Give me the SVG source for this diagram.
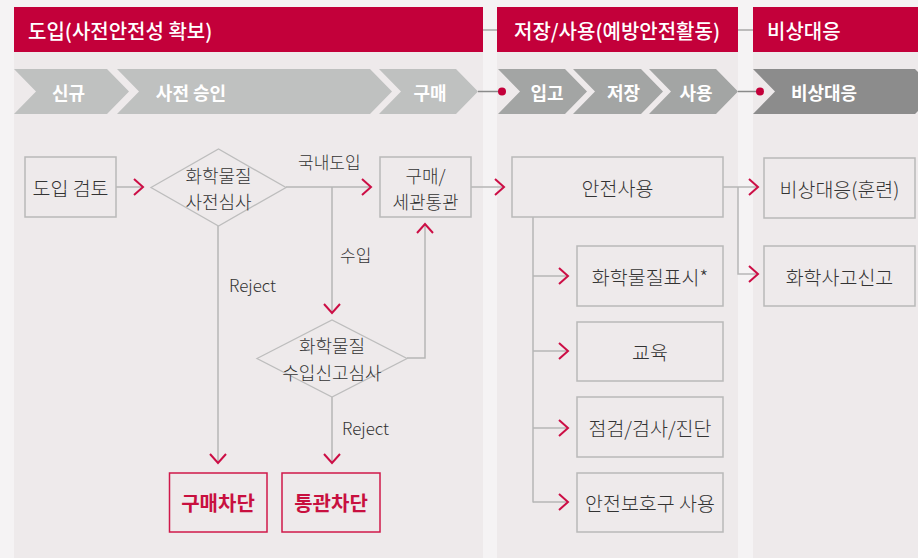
<svg xmlns="http://www.w3.org/2000/svg" width="918" height="558" viewBox="0 0 918 558">
<defs>
<style>
.t{font-family:"Noto Sans CJK KR","Noto Sans",sans-serif;font-size:19.5px;font-weight:300;fill:#333;text-anchor:middle;dominant-baseline:central}
.t2{font-size:18px}
.h{font-family:"Noto Sans CJK KR","Noto Sans",sans-serif;font-size:20px;font-weight:500;fill:#fff;dominant-baseline:central}
.c{font-family:"Noto Sans CJK KR","Noto Sans",sans-serif;font-size:18px;font-weight:700;fill:#fff;text-anchor:middle;dominant-baseline:central}
.r{font-family:"Noto Sans CJK KR","Noto Sans",sans-serif;font-size:20px;font-weight:700;fill:#c8103f;text-anchor:middle;dominant-baseline:central}
.l{font-family:"Noto Sans CJK KR","Noto Sans",sans-serif;font-size:17px;font-weight:300;fill:#333;dominant-baseline:central}
.box{fill:none;stroke:#b9b9b9;stroke-width:1.5}
.rbox{fill:none;stroke:#d0184a;stroke-width:1.5}
.dia{fill:none;stroke:#bdbdbd;stroke-width:1.3}
.ln{fill:none;stroke:#b6b6b6;stroke-width:1.5}
.hd{fill:#c3003a}
.panel{fill:#eeeaeb}
</style>
<marker id="ah" viewBox="0 0 12 18" refX="10" refY="9" markerWidth="12" markerHeight="18" markerUnits="userSpaceOnUse" orient="auto">
<path d="M1,1 L10,9 L1,17" fill="none" stroke="#cc0e45" stroke-width="2"/>
</marker>
</defs>
<rect x="0" y="0" width="918" height="558" fill="#f5f3f4"/>
<rect class="panel" x="14" y="7" width="469" height="551"/>
<rect class="panel" x="497" y="7" width="241" height="551"/>
<rect class="panel" x="753" y="7" width="165" height="551"/>
<g id="headers">
<line x1="483" y1="30" x2="497" y2="30" stroke="#a8a8a8" stroke-width="1.5"/>
<line x1="738" y1="30" x2="753" y2="30" stroke="#a8a8a8" stroke-width="1.5"/>
<rect class="hd" x="14" y="7" width="469" height="45"/>
<rect class="hd" x="497" y="7" width="241" height="45"/>
<rect class="hd" x="753" y="7" width="165" height="45"/>
<text class="h" x="28" y="30">도입(사전안전성 확보)</text>
<text class="h" x="514" y="30">저장/사용(예방안전활동)</text>
<text class="h" x="767" y="30">비상대응</text>
</g>
<g id="stages">
<line x1="478" y1="91.5" x2="502" y2="91.5" stroke="#8a8a8a" stroke-width="1.5"/>
<line x1="738" y1="91.5" x2="760" y2="91.5" stroke="#8a8a8a" stroke-width="1.5"/>
<polygon points="14,69 107,69 129,91.5 107,114 14,114 36,91.5" fill="#bfc1c0"/>
<polygon points="117,69 370,69 392,91.5 370,114 117,114 139,91.5" fill="#bfc1c0"/>
<polygon points="379,69 456,69 478,91.5 456,114 379,114 401,91.5" fill="#bfc1c0"/>
<polygon points="498,69 565,69 587,91.5 565,114 498,114 520,91.5" fill="#a3a5a4"/>
<polygon points="573,69 641,69 663,91.5 641,114 573,114 595,91.5" fill="#a3a5a4"/>
<polygon points="649,69 716,69 738,91.5 716,114 649,114 671,91.5" fill="#a3a5a4"/>
<polygon points="753,69 915,69 937,91.5 915,114 753,114 775,91.5" fill="#8c8c8c"/>
<circle cx="502" cy="91.5" r="4" fill="#c3003a"/>
<circle cx="760" cy="91.5" r="4" fill="#c3003a"/>
<text class="c" x="68.5" y="91.5">신규</text>
<text class="c" x="191" y="91.5">사전 승인</text>
<text class="c" x="430" y="91.5">구매</text>
<text class="c" x="547" y="91.5">입고</text>
<text class="c" x="623.5" y="91.5">저장</text>
<text class="c" x="696" y="91.5">사용</text>
<text class="c" x="824" y="91.5">비상대응</text>
</g>
<g id="connectors">
<line class="ln" x1="116" y1="187" x2="143" y2="187" marker-end="url(#ah)"/>
<line class="ln" x1="286" y1="187" x2="371" y2="187" marker-end="url(#ah)"/>
<line class="ln" x1="332" y1="187" x2="332" y2="313" marker-end="url(#ah)"/>
<polyline class="ln" points="407,358 425,358 425,224" marker-end="url(#ah)"/>
<line class="ln" x1="218" y1="226" x2="218" y2="463" marker-end="url(#ah)"/>
<line class="ln" x1="332" y1="397" x2="332" y2="463" marker-end="url(#ah)"/>
<line class="ln" x1="471" y1="187" x2="504" y2="187" marker-end="url(#ah)"/>
<line class="ln" x1="533" y1="217" x2="533" y2="502.5"/>
<line class="ln" x1="533" y1="276" x2="568" y2="276" marker-end="url(#ah)"/>
<line class="ln" x1="533" y1="351" x2="568" y2="351" marker-end="url(#ah)"/>
<line class="ln" x1="533" y1="428" x2="568" y2="428" marker-end="url(#ah)"/>
<line class="ln" x1="533" y1="502" x2="568" y2="502" marker-end="url(#ah)"/>
<line class="ln" x1="723" y1="187" x2="758" y2="187" marker-end="url(#ah)"/>
<polyline class="ln" points="738,187 738,274 758,274" marker-end="url(#ah)"/>
<text class="l" x="298" y="161">국내도입</text>
<text class="l" x="340" y="254">수입</text>
<text class="l" x="229" y="284">Reject</text>
<text class="l" x="342" y="427">Reject</text>
</g>
<g id="n-review"><rect class="box" x="25" y="157" width="91" height="60"/><text class="t" x="70.5" y="187">도입 검토</text></g>
<g id="n-precheck"><polygon class="dia" points="151,187.5 218.5,149 286,187.5 218.5,226"/><text class="t t2"><tspan x="218.5" y="174.5">화학물질</tspan><tspan x="218.5" y="201">사전심사</tspan></text></g>
<g id="n-purchase"><rect class="box" x="380" y="157" width="91" height="60"/><text class="t t2"><tspan x="425.5" y="174.5">구매/</tspan><tspan x="425.5" y="201">세관통관</tspan></text></g>
<g id="n-importcheck"><polygon class="dia" points="257,358.5 332,320 407,358.5 332,397"/><text class="t t2"><tspan x="332" y="345">화학물질</tspan><tspan x="332" y="371.5">수입신고심사</tspan></text></g>
<g id="n-block1"><rect class="rbox" x="169.5" y="473" width="97.5" height="59"/><text class="r" x="218" y="502.5">구매차단</text></g>
<g id="n-block2"><rect class="rbox" x="282" y="473" width="98" height="59"/><text class="r" x="331" y="502.5">통관차단</text></g>
<g id="n-safeuse"><rect class="box" x="512" y="157" width="211" height="60"/><text class="t" x="617.5" y="187">안전사용</text></g>
<g id="n-label"><rect class="box" x="577" y="246" width="146" height="60"/><text class="t" x="650" y="276">화학물질표시*</text></g>
<g id="n-edu"><rect class="box" x="577" y="322" width="146" height="59"/><text class="t" x="650" y="351.5">교육</text></g>
<g id="n-inspect"><rect class="box" x="577" y="397" width="146" height="60"/><text class="t" x="650" y="427">점검/검사/진단</text></g>
<g id="n-ppe"><rect class="box" x="577" y="473" width="146" height="59"/><text class="t" x="650" y="502.5">안전보호구 사용</text></g>
<g id="n-drill"><rect class="box" x="764" y="158" width="151" height="60"/><text class="t" x="839.5" y="188">비상대응(훈련)</text></g>
<g id="n-report"><rect class="box" x="764" y="246" width="151" height="60"/><text class="t" x="839.5" y="276">화학사고신고</text></g>
</svg>
